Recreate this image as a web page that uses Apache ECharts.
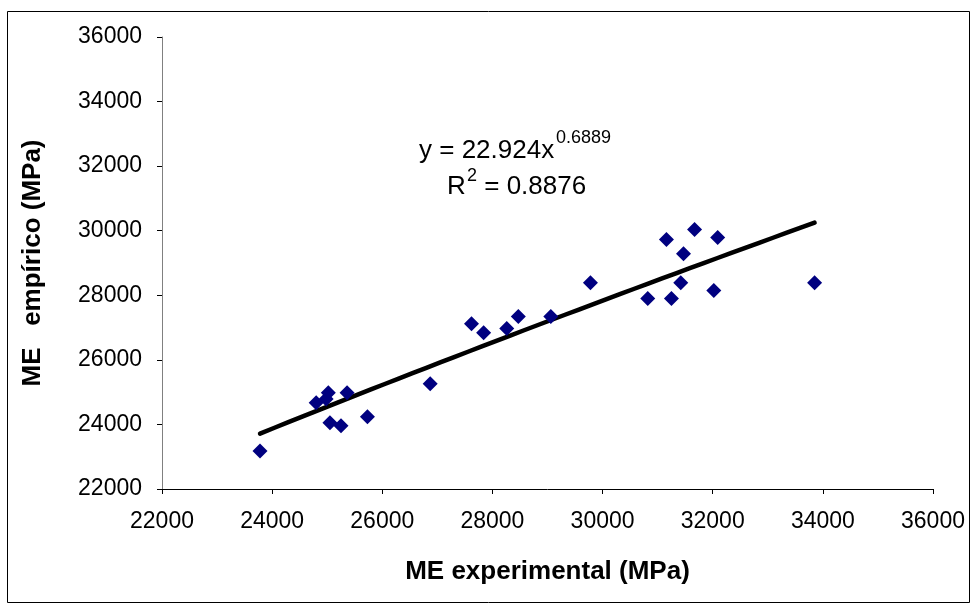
<!DOCTYPE html>
<html>
<head>
<meta charset="utf-8">
<script src="https://cdn.jsdelivr.net/npm/echarts@6/dist/echarts.min.js"></script>
<style>
  html, body { margin: 0; padding: 0; background: #fff; }
  #chart { width: 970px; height: 603px; }
</style>
</head>
<body>
<div id="chart"></div>
<script>
// Módulo elástico: experimental (x) vs. empírico (y), MPa
const meExperimental = [23780, 24800, 25020, 24980, 25360, 25050, 25250, 25730,
  26870, 27620, 27840, 28260, 28470, 29060, 29780, 31160, 31670, 32090, 31470,
  31420, 30820, 31250, 32020, 33850];
const meEmpirico = [23180, 24670, 24980, 24790, 24980, 24050, 23960, 24240,
  25260, 27120, 26840, 26970, 27340, 27340, 28390, 29730, 30040, 29790, 29290,
  28390, 27900, 27900, 28150, 28390];

// Power trend line y = a * x^b
const fitCoef = 22.924;
const fitExp = 0.6889;
const fitR2 = 0.8876;

const axisTicks = [22000, 24000, 26000, 28000, 30000, 32000, 34000, 36000];

const FONT = "'Liberation Sans', Arial, sans-serif";

const points = meExperimental.map((x, i) => [x, meEmpirico[i]]);

const xMin = Math.min(...meExperimental);
const xMax = Math.max(...meExperimental);
const trend = [];
const steps = 40;
for (let i = 0; i <= steps; i++) {
  const x = xMin + (xMax - xMin) * i / steps;
  trend.push([x, fitCoef * Math.pow(x, fitExp)]);
}

const plainNumber = v => String(v);

const chart = echarts.init(document.getElementById('chart'), null, { renderer: 'canvas' });

chart.setOption({
  backgroundColor: '#ffffff',
  animation: false,
  grid: { left: 162, right: 37, top: 37, bottom: 114, containLabel: false },
  xAxis: {
    type: 'value',
    min: axisTicks[0],
    max: axisTicks[axisTicks.length - 1],
    interval: 2000,
    name: 'ME experimental (MPa)',
    nameLocation: 'middle',
    nameGap: 70,
    nameTextStyle: { fontFamily: FONT, fontSize: 26, fontWeight: 'bold', color: '#000' },
    axisLine: { lineStyle: { color: '#000', width: 1 } },
    axisTick: { show: true, length: 5, inside: false, lineStyle: { color: '#000' } },
    axisLabel: { fontFamily: FONT, fontSize: 23, color: '#000', margin: 21, formatter: plainNumber },
    splitLine: { show: false }
  },
  yAxis: {
    type: 'value',
    min: axisTicks[0],
    max: axisTicks[axisTicks.length - 1],
    interval: 2000,
    name: 'ME   empírico (MPa)',
    nameLocation: 'middle',
    nameGap: 116,
    nameTextStyle: { fontFamily: FONT, fontSize: 26, fontWeight: 'bold', color: '#000' },
    axisLine: { show: true, lineStyle: { color: '#808080', width: 1 } },
    axisTick: { show: true, length: 5, inside: false, lineStyle: { color: '#000' } },
    axisLabel: { fontFamily: FONT, fontSize: 23, color: '#000', margin: 20, formatter: plainNumber },
    splitLine: { show: false }
  },
  series: [
    {
      type: 'line',
      data: trend,
      showSymbol: false,
      smooth: false,
      lineStyle: { color: '#000', width: 4.5, cap: 'round' },
      z: 2
    },
    {
      type: 'scatter',
      data: points,
      symbol: 'diamond',
      symbolSize: 15,
      itemStyle: { color: '#000080', opacity: 1 },
      z: 3
    }
  ],
  graphic: [
    {
      type: 'rect',
      left: 5, top: 9,
      shape: { width: 962, height: 591 },
      style: { fill: 'none', stroke: '#000', lineWidth: 1 },
      silent: true
    },
    {
      type: 'text', left: 419, top: 138,
      style: { text: 'y = 22.924x', fontFamily: FONT, fontSize: 26, fill: '#000' }
    },
    {
      type: 'text', left: 556, top: 129,
      style: { text: String(fitExp), fontFamily: FONT, fontSize: 18, fill: '#000' }
    },
    {
      type: 'text', left: 447, top: 174,
      style: { text: 'R', fontFamily: FONT, fontSize: 26, fill: '#000' }
    },
    {
      type: 'text', left: 467, top: 167,
      style: { text: '2', fontFamily: FONT, fontSize: 18, fill: '#000' }
    },
    {
      type: 'text', left: 477, top: 174,
      style: { text: ' = ' + fitR2.toFixed(4), fontFamily: FONT, fontSize: 26, fill: '#000' }
    }
  ]
});
</script>
</body>
</html>
